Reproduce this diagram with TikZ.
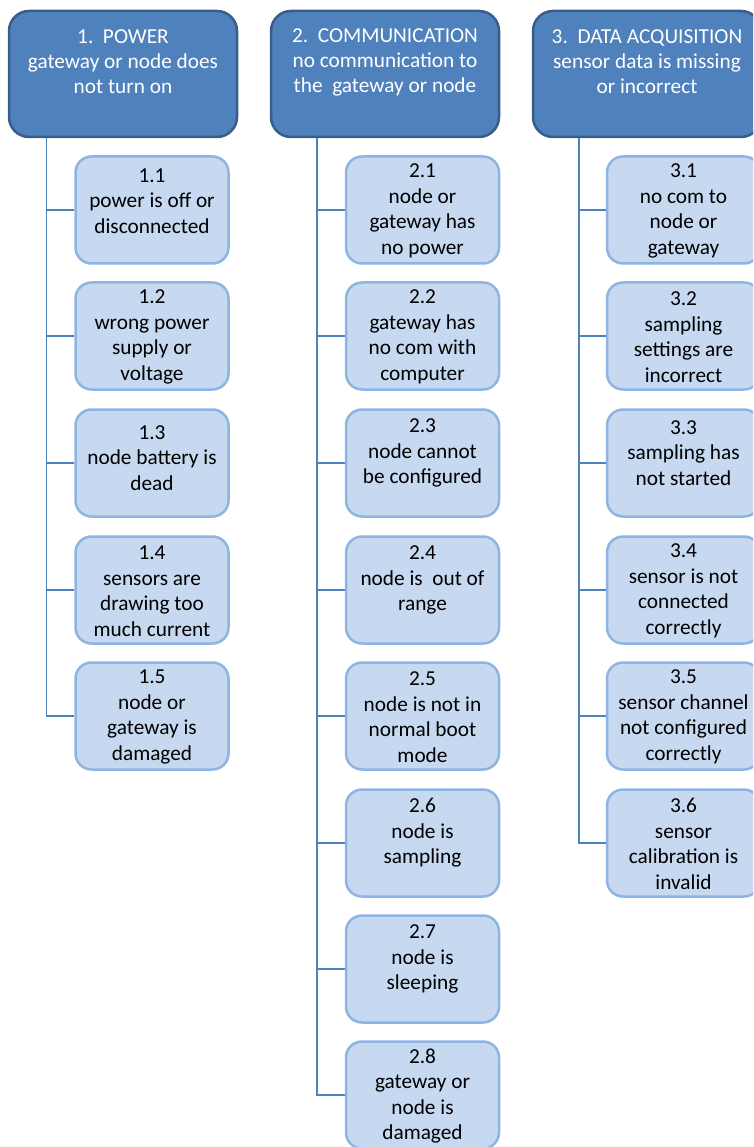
\documentclass[tikz,border=0pt]{standalone}
\usepackage{fontspec}
\setmainfont{Carlito}
\definecolor{hfill}{HTML}{4F81BD}
\definecolor{hdraw}{HTML}{385D8A}
\definecolor{cfill}{HTML}{C6D9F1}
\definecolor{cdraw}{HTML}{8EB4E3}
\definecolor{lcol}{HTML}{4F81BD}
\newcommand{\cbox}[5]{%
  \node[child] (#1) at (#2,#3) {};
  \node[ctext] at (#2,#3+#4) {#5};}
\begin{document}
\begin{tikzpicture}[x=1pt,y=-1pt,
  head/.style={draw=hdraw, fill=hfill, line width=2.5pt, rounded corners=20pt,
    minimum width=228pt, minimum height=126pt, inner sep=0pt},
  child/.style={draw=cdraw, fill=cfill, line width=2.5pt, rounded corners=16pt,
    minimum width=153pt, minimum height=107pt, inner sep=0pt},
  htext/.style={text=white, align=center, font=\fontsize{21.3}{25}\selectfont, inner sep=0pt},
  ctext/.style={text=black, align=center, font=\fontsize{21.3}{25.5}\selectfont, inner sep=0pt},
  conn/.style={draw=lcol, line width=1.5pt}]
\useasboundingbox (0,0) rectangle (753,1147);
\clip (0,0) rectangle (753,1147);

% headers
\node[head] (h1) at (123,74) {};
\node[htext] at (123,62) {1.\ \ POWER\\gateway or node does\\not turn on};
\node[head] (h2) at (385,74) {};
\node[htext] at (385,62) {2.\ \ COMMUNICATION\\no communication to\\the\ \ gateway or node};
\node[head] (h3) at (647,74) {};
\node[htext] at (647,62) {3.\ \ DATA ACQUISITION\\sensor data is missing\\or incorrect};

\coordinate (t1) at ([xshift=38.5pt]h1.south west);
\coordinate (t2) at ([xshift=47pt]h2.south west);
\coordinate (t3) at ([xshift=47pt]h3.south west);

% column 1
\cbox{c11}{152}{210}{-9}{1.1\\power is off or\\disconnected}
\cbox{c12}{152}{336}{1}{1.2\\wrong power\\supply or\\voltage}
\cbox{c13}{152}{463}{-5}{1.3\\node battery is\\dead}
\cbox{c14}{152}{590}{1}{1.4\\sensors are\\drawing too\\much current}
\cbox{c15}{152}{716}{1}{1.5\\node or\\gateway is\\damaged}

% column 2
\cbox{c21}{422.5}{210}{1}{2.1\\node or\\gateway has\\no power}
\cbox{c22}{422.5}{336}{1}{2.2\\gateway has\\no com with\\computer}
\cbox{c23}{422.5}{463}{-10}{2.3\\node cannot\\be configured}
\cbox{c24}{422.5}{590}{-10}{2.4\\node is\ \ out of\\range}
\cbox{c25}{422.5}{716}{1}{2.5\\node is not in\\normal boot\\mode}
\cbox{c26}{422.5}{843}{-10}{2.6\\node is\\sampling}
\cbox{c27}{422.5}{969}{-10}{2.7\\node is\\sleeping}
\cbox{c28}{422.5}{1095}{1}{2.8\\gateway or\\node is\\damaged}

% column 3
\cbox{c31}{683.5}{210}{1}{3.1\\no com to\\node or\\gateway}
\cbox{c32}{683.5}{336}{1}{3.2\\sampling\\settings are\\incorrect}
\cbox{c33}{683.5}{463}{-10}{3.3\\sampling has\\not started}
\cbox{c34}{683.5}{590}{1}{3.4\\sensor is not\\connected\\correctly}
\cbox{c35}{683.5}{716}{1}{3.5\\sensor channel\\not configured\\correctly}
\cbox{c36}{683.5}{843}{1}{3.6\\sensor\\calibration is\\invalid}

% connectors
\draw[conn] (t1) |- (c15.west);
\foreach \i in {1,...,4} \draw[conn] (c1\i.west) -- (c1\i.west -| t1);
\draw[conn] (t2) |- (c28.west);
\foreach \i in {1,...,7} \draw[conn] (c2\i.west) -- (c2\i.west -| t2);
\draw[conn] (t3) |- (c36.west);
\foreach \i in {1,...,5} \draw[conn] (c3\i.west) -- (c3\i.west -| t3);
\end{tikzpicture}
\end{document}
